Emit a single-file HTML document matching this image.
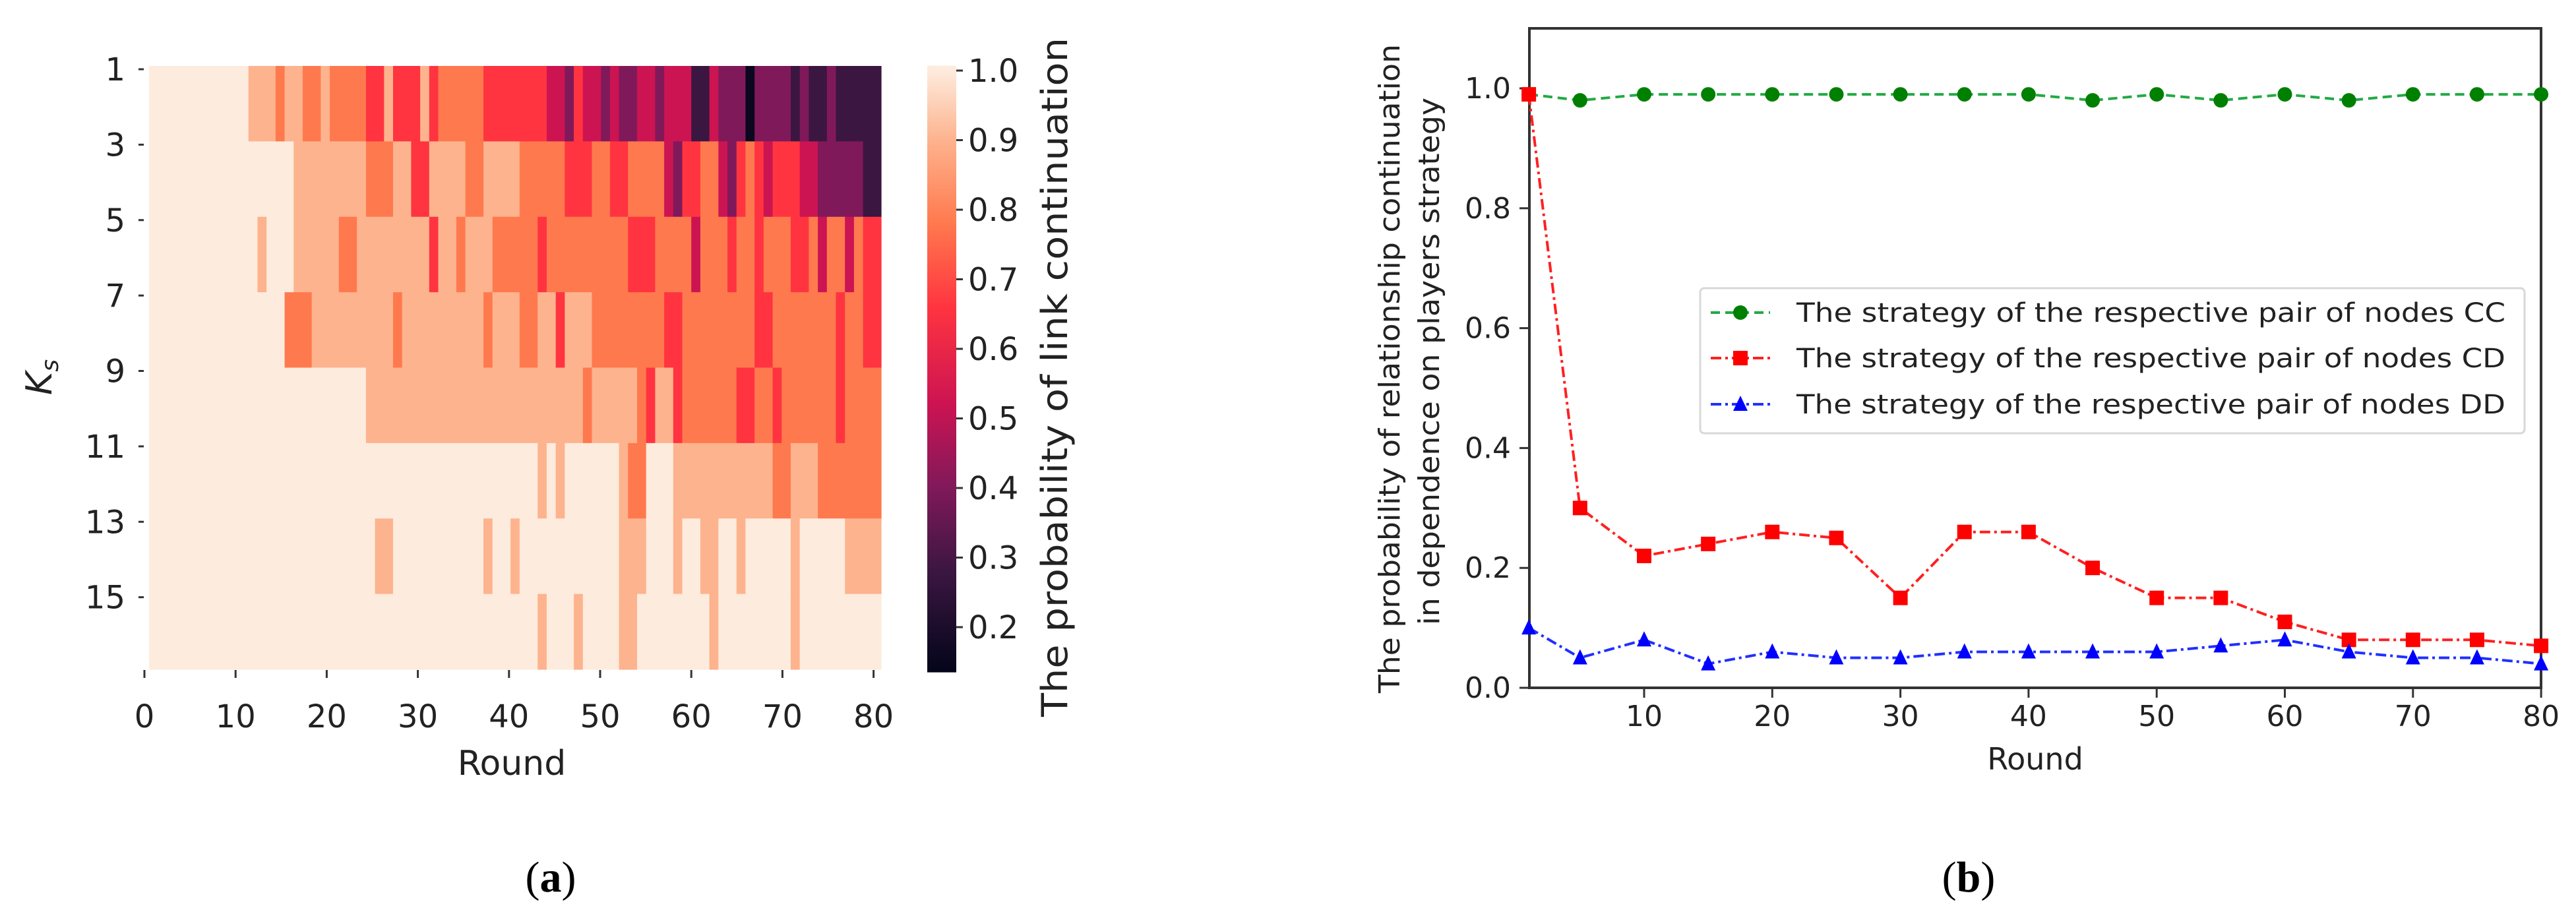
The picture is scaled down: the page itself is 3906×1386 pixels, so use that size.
<!DOCTYPE html>
<html><head><meta charset="utf-8"><style>html,body{margin:0;padding:0;background:#fff;}svg{display:block;}</style></head>
<body>
<svg id="fig" width="3906" height="1386" viewBox="0 0 3906 1386" xmlns="http://www.w3.org/2000/svg" font-family="'DejaVu Sans','Liberation Sans',sans-serif">
<defs>
<linearGradient id="cbgrad" x1="0" y1="1" x2="0" y2="0"></linearGradient>
</defs>
<g id="panelA"></g>
<g id="panelB"></g>
</svg>
<script>
// ---------- Heatmap data (panel a) ----------
const heatRowLabels = ["1","3","5","7","9","11","13","15"];
const heatXTicks = [0,10,20,30,40,50,60,70,80];
const levelCodes = ["W","P","O","R","C","M","D","K"];
const levelValues = [1.0,0.9,0.78,0.66,0.52,0.4,0.28,0.15];
const heatRowsRLE = [
"W11 P3 O1 P2 O2 P1 O4 R2 P1 R3 P1 R1 O5 R7 C2 M1 R1 C2 M1 C1 M2 C2 M1 C3 D2 C1 M3 K1 M4 D1 M1 D2 M1 D5",
"W16 P8 O3 P2 R2 P4 O2 P4 O5 R3 O2 R2 O4 C1 M1 R2 O2 C1 M1 R1 O1 R1 C1 R3 C2 M5 D2",
"W12 P1 W3 P5 O2 P8 R1 P2 O1 P3 O5 R1 O9 R3 O4 C1 O3 R1 O2 R1 O3 R2 O1 C1 O2 C1 O1 R2",
"W15 O3 P9 O1 P9 O1 P3 O2 P2 R1 P3 O8 R2 O8 R2 O7 R1 O2 R2",
"W24 P24 O1 P5 O1 R1 P2 R1 O6 R2 O2 R1 O6 R1 O4",
"W43 P1 W1 P1 W6 P1 O2 W3 P11 O2 P3 O7",
"W25 P2 W10 P1 W2 P1 W11 P3 W3 P1 W2 P2 W2 P1 W5 P1 W5 P4",
"W43 P1 W3 P1 W4 P2 W8 P1 W8 P1 W9"
];
const cbTicks = [1.0,0.9,0.8,0.7,0.6,0.5,0.4,0.3,0.2];
// colormap (rocket-like) stops: value -> colour
const cmapVals = [0.13,0.28,0.40,0.52,0.66,0.78,0.90,1.0];
const cmapCols = ["#03051a","#3b1641","#80195a","#cc1452","#ff3440","#ff794e","#fdb38e","#fdebdd"];

// ---------- Line chart data (panel b) ----------
const rounds = [1,5,10,15,20,25,30,35,40,45,50,55,60,65,70,75,80];
const ccVals = [0.99,0.98,0.99,0.99,0.99,0.99,0.99,0.99,0.99,0.98,0.99,0.98,0.99,0.98,0.99,0.99,0.99];
const cdVals = [0.99,0.30,0.22,0.24,0.26,0.25,0.15,0.26,0.26,0.20,0.15,0.15,0.11,0.08,0.08,0.08,0.07];
const ddVals = [0.10,0.05,0.08,0.04,0.06,0.05,0.05,0.06,0.06,0.06,0.06,0.07,0.08,0.06,0.05,0.05,0.04];
const bXTicks = [10,20,30,40,50,60,70,80];
const bYTicks = [0.0,0.2,0.4,0.6,0.8,1.0];
const legendLabels = ["The strategy of the respective pair of nodes CC","The strategy of the respective pair of nodes CD","The strategy of the respective pair of nodes DD"];

const NS = "http://www.w3.org/2000/svg";
function mk(parent, tag, attrs, text){
  const e = document.createElementNS(NS, tag);
  for (const k in attrs) e.setAttribute(k, attrs[k]);
  if (text !== undefined) e.textContent = text;
  parent.appendChild(e);
  return e;
}
function hex2rgb(h){return [parseInt(h.substr(1,2),16),parseInt(h.substr(3,2),16),parseInt(h.substr(5,2),16)];}
function cmap(v){
  if (v <= cmapVals[0]) return cmapCols[0];
  for (let i=1;i<cmapVals.length;i++){
    if (v <= cmapVals[i]){
      const t=(v-cmapVals[i-1])/(cmapVals[i]-cmapVals[i-1]);
      const a=hex2rgb(cmapCols[i-1]), b=hex2rgb(cmapCols[i]);
      return "rgb("+a.map((x,j)=>Math.round(x+(b[j]-x)*t)).join(",")+")";
    }
  }
  return cmapCols[cmapCols.length-1];
}
function decodeRow(s){
  const out=[];
  s.trim().split(/\s+/).forEach(tok=>{
    const code=tok[0], n=parseInt(tok.slice(1));
    const v=levelValues[levelCodes.indexOf(code)];
    for(let i=0;i<n;i++) out.push(v);
  });
  return out;
}

// ---------- Panel A ----------
(function(){
  const g=document.getElementById("panelA");
  const hx0=226, hx1=1336, hy0=100, hy1=1015;
  const nRows=heatRowsRLE.length;
  const rows=heatRowsRLE.map(decodeRow);
  const nCols=81;
  const cw=(hx1-hx0)/nCols, rh=(hy1-hy0)/nRows;
  const colX=c=>hx0+c*cw;
  const rowY=r=>hy0+r*rh;
  const tickX=t=>219+t*13.82;
  const cells=mk(g,"g",{});
  
  
  rows.forEach((row,r)=>{
    row.forEach((v,c)=>{
      if(c>=nCols) return;
      const rc=mk(cells,"rect",{x:colX(c).toFixed(2),y:rowY(r).toFixed(2),width:(cw+0.6).toFixed(2),height:(rh+0.6).toFixed(2),fill:cmap(v)});
      
      
    });
  });
  // y ticks
  heatRowLabels.forEach((lab,i)=>{
    const y=rowY(i)+5;
    mk(g,"line",{x1:210,y1:y,x2:218,y2:y,stroke:"#333","stroke-width":3});
    const t=mk(g,"text",{x:190,y:y+17,"font-size":48,"text-anchor":"end",fill:"#222"},lab);
    
    
  });
  // x ticks
  heatXTicks.forEach(v=>{
    const x=tickX(v);
    mk(g,"line",{x1:x,y1:1016,x2:x,y2:1028,stroke:"#333","stroke-width":3});
    const t=mk(g,"text",{x:x,y:1103,"font-size":48,"text-anchor":"middle",fill:"#222"},String(v));
    
    
  });
  const xl=mk(g,"text",{x:776,y:1175,"font-size":52,"text-anchor":"middle",fill:"#222"},"Round");
  
  
  const yl=mk(g,"text",{x:0,y:0,"font-size":54,"text-anchor":"middle",fill:"#222","font-style":"italic",transform:"translate(78,572) rotate(-90)"});
  
  
  yl.appendChild(document.createTextNode("K"));
  mk(yl,"tspan",{"font-size":36,dy:10},"s");
  // colorbar
  const grad=document.getElementById("cbgrad");
  const cbMin=0.135, cbMax=1.007;
  cmapVals.forEach((v,i)=>{
    mk(grad,"stop",{offset:((Math.max(v,cbMin)-cbMin)/(cbMax-cbMin)).toFixed(4),"stop-color":cmapCols[i]});
  });
  const cbY=v=>107+(1-v)*1055;
  const cb=mk(g,"rect",{x:1406,y:cbY(cbMax),width:44,height:cbY(cbMin)-cbY(cbMax),fill:"url(#cbgrad)"});
  
  
  cbTicks.forEach(v=>{
    const y=cbY(v);
    mk(g,"line",{x1:1450,y1:y,x2:1460,y2:y,stroke:"#333","stroke-width":3});
    const t=mk(g,"text",{x:1468,y:y+17,"font-size":48,fill:"#222"},v.toFixed(1));
    
    
  });
  const cl=mk(g,"text",{x:0,y:0,"font-size":54,"text-anchor":"middle",fill:"#222",transform:"translate(1618,572) rotate(-90)",textLength:1030,lengthAdjust:"spacingAndGlyphs"},"The probability of link continuation");
  
  
  const cap=mk(g,"text",{x:835,y:1352,"font-size":66,"text-anchor":"middle","font-family":"'Liberation Serif',serif",fill:"#000"});
  
  
  cap.appendChild(document.createTextNode("("));
  mk(cap,"tspan",{"font-weight":"bold"},"a");
  cap.appendChild(document.createTextNode(")"));
})();

// ---------- Panel B ----------
(function(){
  const g=document.getElementById("panelB");
  const L=2319, R=3853, T=43, B=1043;
  const xS=r=>2493+(r-10)*19.43;
  const yS=v=>B-909*v;
  const frame=mk(g,"rect",{x:L,y:T,width:R-L,height:B-T,fill:"none",stroke:"#333","stroke-width":4});
  
  
  bYTicks.forEach(v=>{
    const y=yS(v);
    mk(g,"line",{x1:L-15,y1:y,x2:L,y2:y,stroke:"#333","stroke-width":3});
    const t=mk(g,"text",{x:L-28,y:y+15,"font-size":44,"text-anchor":"end",fill:"#222"},v.toFixed(1));
    
    
  });
  bXTicks.forEach(v=>{
    const x=xS(v);
    mk(g,"line",{x1:x,y1:B,x2:x,y2:B+15,stroke:"#333","stroke-width":3});
    const t=mk(g,"text",{x:x,y:B+58,"font-size":44,"text-anchor":"middle",fill:"#222"},String(v));
    
    
  });
  const xl=mk(g,"text",{x:3086,y:1167,"font-size":46,"text-anchor":"middle",fill:"#222"},"Round");
  
  
  const yl1=mk(g,"text",{x:0,y:0,"font-size":44,"text-anchor":"middle",fill:"#222",transform:"translate(2122,559) rotate(-90)",textLength:984,lengthAdjust:"spacingAndGlyphs"},"The probability of relationship continuation");
  
  
  const yl2=mk(g,"text",{x:0,y:0,"font-size":44,"text-anchor":"middle",fill:"#222",transform:"translate(2182,548) rotate(-90)",textLength:800,lengthAdjust:"spacingAndGlyphs"},"in dependence on players strategy");
  
  

  function marker(parent,type,x,y,color){
    let m;
    if(type==="circle") m=mk(parent,"circle",{cx:x,cy:y,r:11,fill:color});
    else if(type==="square") m=mk(parent,"rect",{x:x-11,y:y-11,width:22,height:22,fill:color});
    else m=mk(parent,"polygon",{points:`${x},${y-13} ${x-11},${y+10} ${x+11},${y+10}`,fill:color});
    return m;
  }
  const series=[
    {vals:ccVals,line:"#22aa44",mark:"#008000",dash:"14 8",type:"circle",name:"series-cc"},
    {vals:cdVals,line:"#ff2020",mark:"#ff0000",dash:"16 6 4 6",type:"square",name:"series-cd"},
    {vals:ddVals,line:"#2030ff",mark:"#0000ff",dash:"16 6 4 6",type:"triangle",name:"series-dd"}
  ];
  const clip=mk(g,"clipPath",{id:"bclip"});
  mk(clip,"rect",{x:L-14,y:T,width:R-L+28,height:B-T});
  series.forEach(s=>{
    const sg=mk(g,"g",{"clip-path":"url(#bclip)"});
    
    
    const pts=rounds.map((r,i)=>xS(r).toFixed(1)+","+yS(s.vals[i]).toFixed(1)).join(" ");
    const pl=mk(sg,"polyline",{points:pts,fill:"none",stroke:s.line,"stroke-width":4,"stroke-dasharray":s.dash});
    
    
    rounds.forEach((r,i)=>{
      const m=marker(sg,s.type,xS(r),yS(s.vals[i]),s.mark);
      
      
    });
  });
  // legend
  const lg=mk(g,"g",{});
  
  
  mk(lg,"rect",{x:2578,y:437,width:1250,height:220,rx:6,fill:"#fff","fill-opacity":0.85,stroke:"#d8d8d8","stroke-width":3});
  const ly=[474,543,613];
  series.forEach((s,i)=>{
    const e=mk(lg,"g",{});
    
    
    mk(e,"line",{x1:2594,y1:ly[i],x2:2684,y2:ly[i],stroke:s.line,"stroke-width":4,"stroke-dasharray":s.dash});
    marker(e,s.type,2639,ly[i],s.mark);
    mk(e,"text",{x:2724,y:ly[i]+14,"font-size":40,fill:"#222",textLength:1075,lengthAdjust:"spacingAndGlyphs"},legendLabels[i]);
  });
  const cap=mk(g,"text",{x:2985,y:1352,"font-size":66,"text-anchor":"middle","font-family":"'Liberation Serif',serif",fill:"#000"});
  
  
  cap.appendChild(document.createTextNode("("));
  mk(cap,"tspan",{"font-weight":"bold"},"b");
  cap.appendChild(document.createTextNode(")"));
})();
</script>
</body></html>
